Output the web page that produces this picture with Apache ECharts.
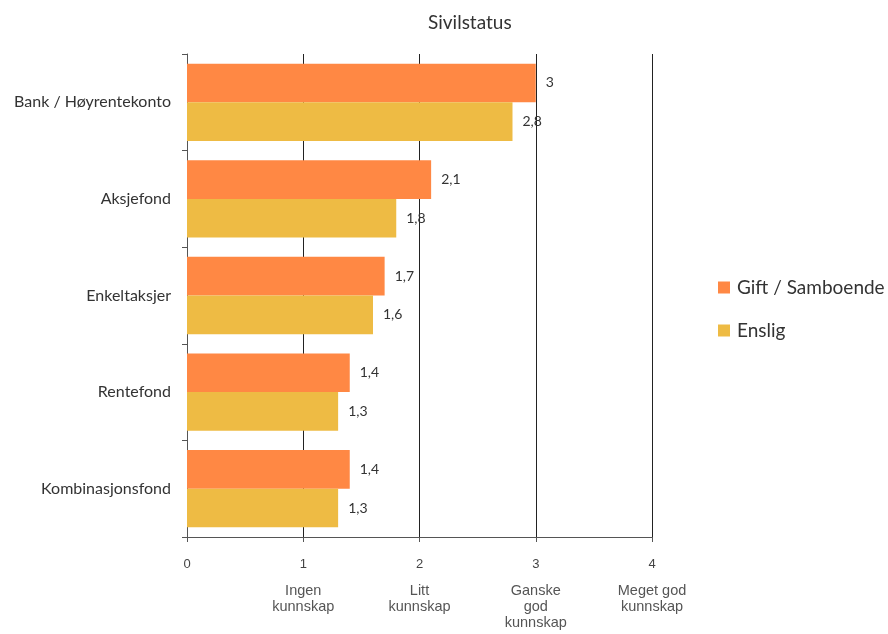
<!DOCTYPE html>
<html><head><meta charset="utf-8">
<script src="https://cdn.jsdelivr.net/npm/echarts@6/dist/echarts.min.js"></script>
<style>html,body{margin:0;padding:0;background:#fff}#c{width:888px;height:634px}</style>
</head><body><div id="c"></div>
<script>
var categories = ['Bank / Høyrentekonto', 'Aksjefond', 'Enkeltaksjer', 'Rentefond', 'Kombinasjonsfond'];
var giftValues = [3, 2.1, 1.7, 1.4, 1.4];
var ensligValues = [2.8, 1.8, 1.6, 1.3, 1.3];
var tickDescriptions = ['', 'Ingen\nkunnskap', 'Litt\nkunnskap', 'Ganske\ngod\nkunnskap', 'Meget god\nkunnskap'];

var chart = echarts.init(document.getElementById('c'));
function fmt(p){ return String(p.value).replace('.', ','); }
chart.setOption({
  animation: false,
  title: { text: 'Sivilstatus', left: 423, top: 8,
    textStyle: { fontFamily: 'Lato', fontSize: 19, fontWeight: 'normal', color: '#333' } },
  legend: {
    orient: 'vertical', left: 713, top: 273, itemGap: 24, itemWidth: 12, itemHeight: 12,
    icon: 'rect',
    textStyle: { fontFamily: 'Lato', fontSize: 19, color: '#333', padding: [0,0,0,2] },
    data: ['Gift / Samboende', 'Enslig']
  },
  grid: { left: 187, right: 236, top: 54, bottom: 97 },
  xAxis: {
    type: 'value', min: 0, max: 4, interval: 1,
    axisLine: { show: true, lineStyle: { color: '#555' } },
    axisTick: { show: true, length: 5, lineStyle: { color: '#555' } },
    splitLine: { show: true, lineStyle: { color: '#222', width: 1 } },
    axisLabel: {
      margin: 19,
      formatter: function (v) {
        var d = tickDescriptions[v];
        var s = '{n|' + v + '}';
        if (d) { s += '\n{g|}\n' + d.split('\n').map(function (x) { return '{d|' + x + '}'; }).join('\n'); }
        return s;
      },
      rich: {
        n: { fontFamily: 'Liberation Sans', fontSize: 13, color: '#444', lineHeight: 16 },
        g: { lineHeight: 11, fontSize: 1 },
        d: { fontFamily: 'Liberation Sans', fontSize: 14.5, color: '#555', lineHeight: 16 }
      }
    }
  },
  yAxis: {
    type: 'category', data: categories, inverse: true,
    axisLine: { show: true, lineStyle: { color: '#555' } },
    axisTick: { show: true, length: 5, lineStyle: { color: '#555' } },
    axisLabel: { margin: 16, fontFamily: 'Lato', fontSize: 16, color: '#333' }
  },
  series: [
    { name: 'Gift / Samboende', type: 'bar', data: giftValues, barGap: '0%', barCategoryGap: '20%',
      itemStyle: { color: '#FF8844' },
      label: { show: true, position: 'right', distance: 10, formatter: fmt,
        fontFamily: 'Lato', fontSize: 14, color: '#333' } },
    { name: 'Enslig', type: 'bar', data: ensligValues, barGap: '0%', barCategoryGap: '20%',
      itemStyle: { color: '#EEBB44' },
      label: { show: true, position: 'right', distance: 10, formatter: fmt,
        fontFamily: 'Lato', fontSize: 14, color: '#333' } }
  ]
});
</script></body></html>
